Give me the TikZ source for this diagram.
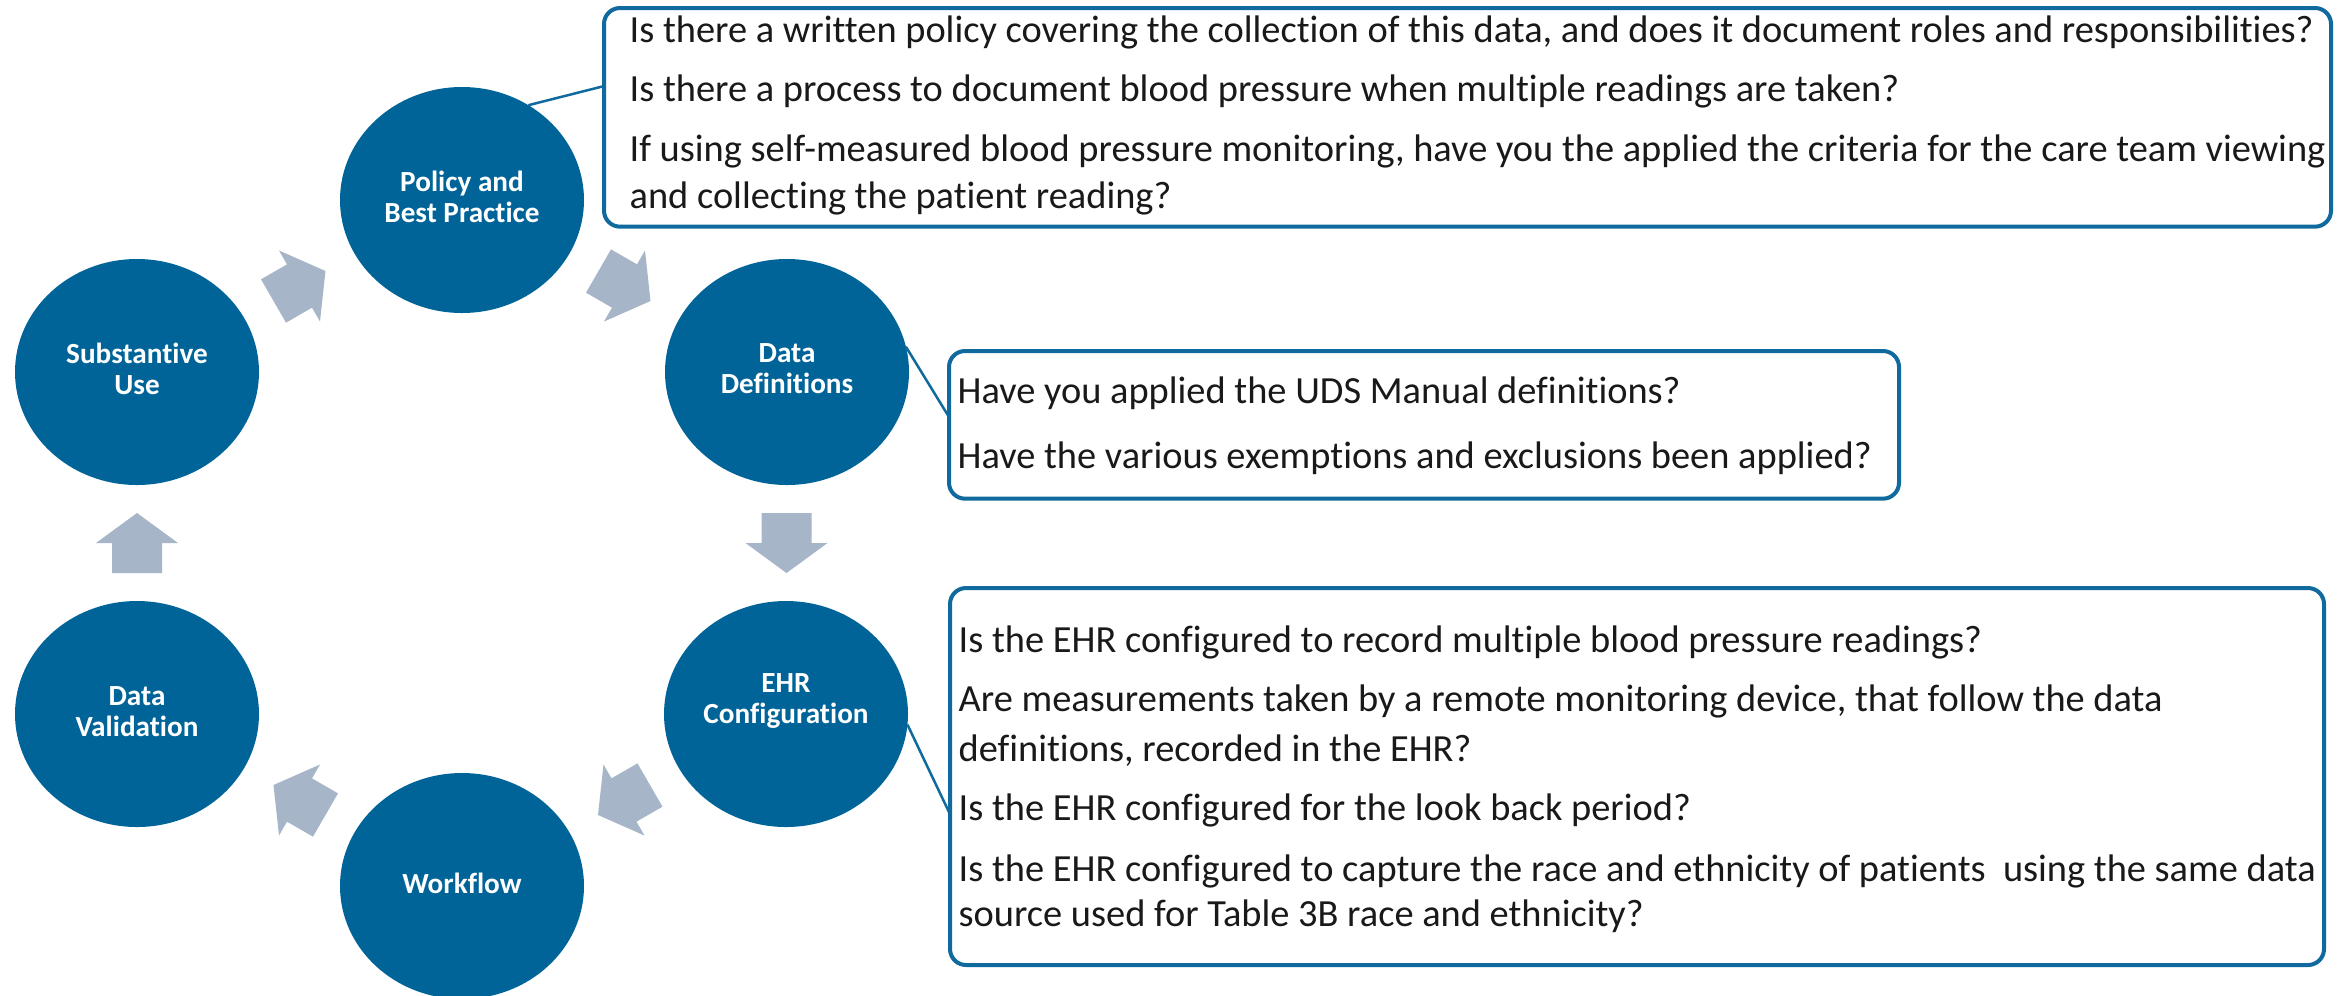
\documentclass[tikz,border=0pt]{standalone}
\usepackage{fontspec}
\setmainfont{Carlito}[Ligatures=NoCommon]
\usetikzlibrary{calc,shapes.geometric}

\definecolor{stageblue}{RGB}{0,100,153}
\definecolor{boxblue}{RGB}{16,106,158}
\definecolor{arrowgrey}{RGB}{167,181,201}
\definecolor{ink}{RGB}{25,25,25}

\tikzset{
  stage/.style={ellipse, fill=stageblue, draw=none, inner sep=0pt, outer sep=0pt,
                minimum width=73.2pt, minimum height=67.8pt},
  stagelabel/.style={text=white, align=center, inner sep=0pt,
                font=\bfseries\fontsize{8.76}{9.3}\selectfont},
  qbox/.style={draw=boxblue, line width=1.2pt, fill=white, rounded corners=4.8pt,
                inner sep=0pt, outer sep=0pt, anchor=north west},
  qline/.style={anchor=base west, inner sep=0pt, text=ink,
                font=\fontsize{11.52}{14}\selectfont},
  link/.style={draw=boxblue, line width=0.75pt},
  cyclearrow/.pic={
    \fill[arrowgrey] (-30,-25) -- (0,-25) -- (0,-41) -- (30,0) -- (0,41) -- (0,25) -- (-30,25) -- cycle;
  }
}

\begin{document}
\begin{tikzpicture}[x=0.3pt, y=-0.3pt]
  \useasboundingbox (0,0) rectangle (2341,995);
  \clip (0,0) rectangle (2341,995);
  \fill[white] (0,0) rectangle (2341,995);

  % the six stages of the cycle
  \node[stage] (pol) at (462,200) {};
  \node[stage] (dd)  at (787,372) {};
  \node[stage] (ehr) at (786,714) {};
  \node[stage] (wf)  at (462,886) {};
  \node[stage] (dv)  at (137,714) {};
  \node[stage] (sub) at (137,372) {};

  \node[stagelabel] (polt) at (462,197) {Policy and\\Best Practice};
  \node[stagelabel] (ddt)  at (787,369) {Data\\Definitions};
  \node[stagelabel] (ehrt) at (786,701) {EHR\\Configuration};
  \node[stagelabel] (wft)  at (462,883) {Workflow};
  \node[stagelabel] (dvt)  at (137,712) {Data\\Validation};
  \node[stagelabel] (subt) at (137,369) {Substantive\\Use};

  % block arrows between consecutive stages
  \coordinate (a1) at ($(sub)!0.5!(pol)$);
  \coordinate (a2) at ($(pol)!0.5!(dd)$);
  \coordinate (a3) at ($(dd)!0.5!(ehr)$);
  \coordinate (a4) at ($(ehr)!0.5!(wf)$);
  \coordinate (a5) at ($(wf)!0.5!(dv)$);
  \coordinate (a6) at ($(dv)!0.5!(sub)$);
  \pic[rotate=30]  at (a1) {cyclearrow};
  \pic[rotate=-30] at (a2) {cyclearrow};
  \pic[rotate=-90] at (a3) {cyclearrow};
  \pic[rotate=210] at (a4) {cyclearrow};
  \pic[rotate=150] at (a5) {cyclearrow};
  \pic[rotate=90]  at (a6) {cyclearrow};

  % question boxes
  \node[qbox, minimum width=518.1pt, minimum height=65.6pt] (b1) at (604,8) {};
  \node[qbox, minimum width=285pt,   minimum height=44.3pt] (b2) at (949,351) {};
  \node[qbox, minimum width=412.2pt, minimum height=113.1pt] (b3) at (950,588) {};

  \coordinate (k1) at ($(b1.north west)!0.357!(b1.south west)$);
  \coordinate (k2) at ($(b2.north west)!0.447!(b2.south west)$);
  \coordinate (k3) at ($(b3.north west)!0.600!(b3.south west)$);
  \draw[link] (pol.55) -- (k1);
  \draw[link] (dd.12) -- (k2);
  \draw[link] (ehr.-5) -- (k3);

  \node[qline] (q11) at (629,42)  {Is there a written policy covering the collection of this data, and does it document roles and responsibilities?};
  \node[qline] (q12) at (629,101) {Is there a process to document blood pressure when multiple readings are taken?};
  \node[qline] (q13) at (629,161) {If using self-measured blood pressure monitoring, have you the applied the criteria for the care team viewing};
  \node[qline] (q14) at (629,208) {and collecting the patient reading?};

  \node[qline] (q21) at (957,403) {Have you applied the UDS Manual definitions?};
  \node[qline] (q22) at (957,468) {Have the various exemptions and exclusions been applied?};

  \node[qline] (q31) at (958,652) {Is the EHR configured to record multiple blood pressure readings?};
  \node[qline] (q32) at (958,711) {Are measurements taken by a remote monitoring device, that follow the data};
  \node[qline] (q33) at (958,761) {definitions, recorded in the EHR?};
  \node[qline] (q34) at (958,820) {Is the EHR configured for the look back period?};
  \node[qline] (q35) at (958,881) {Is the EHR configured to capture the race and ethnicity of patients\ \ using the same data};
  \node[qline] (q36) at (958,926) {source used for Table 3B race and ethnicity?};
\end{tikzpicture}
\end{document}
